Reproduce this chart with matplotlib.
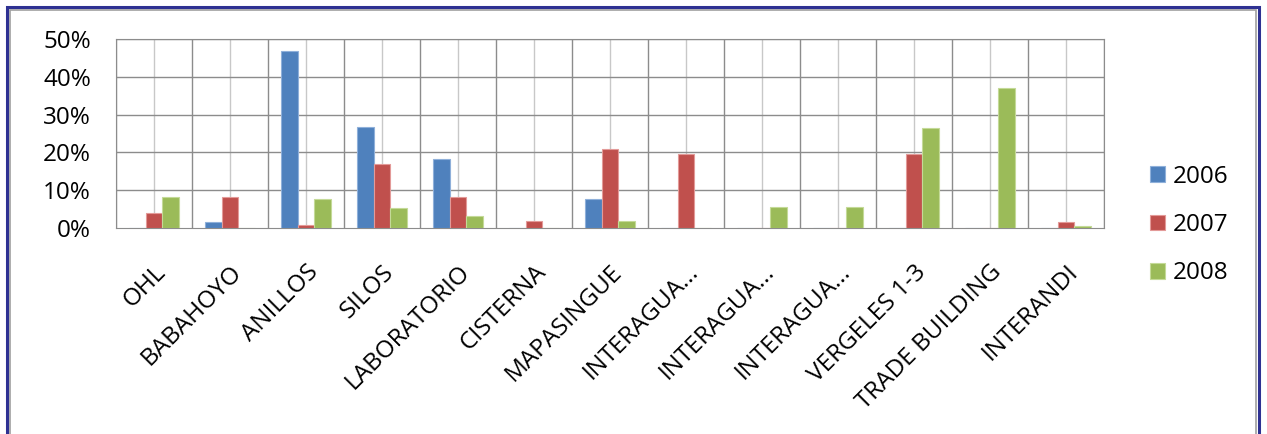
import matplotlib.pyplot as plt
import numpy as np
from matplotlib.patches import Rectangle
from matplotlib.ticker import FuncFormatter, MultipleLocator
import matplotlib.transforms as mtransforms

plt.rcParams['font.family'] = ['Open Sans', 'DejaVu Sans']

categorias = ["OHL", "BABAHOYO", "ANILLOS", "SILOS", "LABORATORIO", "CISTERNA",
              "MAPASINGUE", "INTERAGUA...", "INTERAGUA...", "INTERAGUA...",
              "VERGELES 1-3", "TRADE BUILDING", "INTERANDI"]
anos = ["2006", "2007", "2008"]
v2006 = [0, 1.5, 46.7, 26.6, 18.2, 0, 7.6, 0, 0, 0, 0, 0, 0]
v2007 = [3.9, 8.3, 0.7, 16.8, 8.3, 1.8, 20.8, 19.5, 0, 0, 19.5, 0, 1.5]
v2008 = [8.3, 0, 7.6, 5.2, 3.2, 0, 1.8, 0, 5.5, 5.5, 26.4, 37.1, 0.5]
series = [v2006, v2007, v2008]
cores = ["#4F81BD", "#C0504D", "#9BBB59"]
bordas = ["#8FB0DA", "#E39A98", "#C4DA98"]

W, H = 1267, 434
fig = plt.figure(figsize=(W / 100, H / 100), dpi=100)
ax = fig.add_axes([116 / W, 1 - 228 / H, (1104 - 116) / W, (228 - 39) / H])

x = np.arange(len(categorias))
larg = 0.217
for i, (vals, c, b) in enumerate(zip(series, cores, bordas)):
    ax.bar(x + (i - 1) * larg, vals, width=larg, color=c, edgecolor=b,
           linewidth=0.8, label=anos[i], zorder=3)

ax.set_xlim(-0.5, len(categorias) - 0.5)
ax.set_ylim(0, 50)
ax.yaxis.set_major_locator(MultipleLocator(10))
ax.yaxis.set_major_formatter(FuncFormatter(lambda v, p: f"{int(v)}%"))

# grelha: linhas escuras nos limites, claras no centro das categorias
for k in range(len(categorias) + 1):
    ax.axvline(k - 0.5, color="#8c8c8c", lw=1.0, zorder=1)
for k in range(len(categorias)):
    ax.axvline(k, color="#c8c8c8", lw=1.0, zorder=1)
for v in range(10, 51, 10):
    ax.axhline(v, color="#8c8c8c", lw=1.0, zorder=1)
for s in ax.spines.values():
    s.set_color("#8c8c8c")

ax.set_xticks(x)
ax.set_xticklabels(categorias, rotation=45, ha="right", rotation_mode="anchor",
                   fontsize=17.5)
desloc = mtransforms.ScaledTranslation(1 / 100, 0, fig.dpi_scale_trans)
for t in ax.get_xticklabels():
    t.set_transform(t.get_transform() + desloc)
ax.tick_params(axis="x", length=0, pad=23)
ax.tick_params(axis="y", length=0, pad=18, labelsize=17.5)

fig.legend(loc="center left", bbox_to_anchor=(1128 / W, 1 - 225 / H), frameon=False,
           fontsize=17.5, handlelength=0.62, handleheight=0.62, handletextpad=0.33,
           labelspacing=1.0)

# moldura azul
fig.patches.append(Rectangle((9.5 / W, -0.05), (1256 - 9.5) / W, 1.05 - 9.5 / H,
                             transform=fig.transFigure, fill=False,
                             edgecolor="#a0a0a0", lw=1.2))
fig.patches.append(Rectangle((7 / W, -0.05), (1259 - 7) / W, 1.05 - 7 / H,
                             transform=fig.transFigure, fill=False,
                             edgecolor="#2E3192", lw=2.2))

fig.savefig("out.png", dpi=100)
